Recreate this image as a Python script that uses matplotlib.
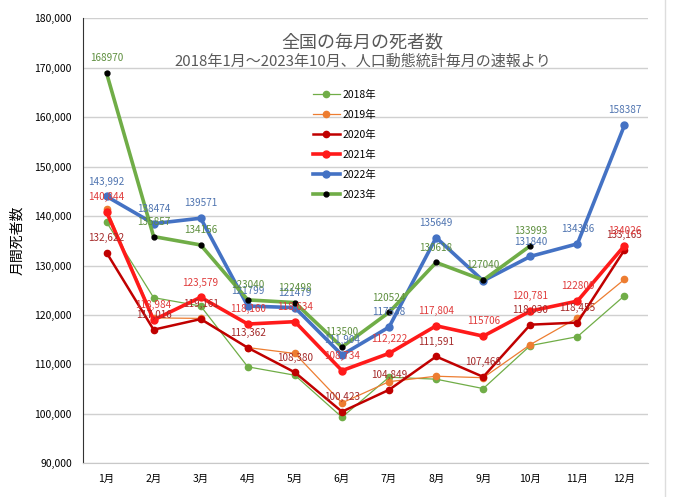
import matplotlib
matplotlib.use('Agg')
import matplotlib.pyplot as plt
from matplotlib.lines import Line2D

plt.rcParams['font.family'] = ['Noto Sans CJK JP', 'DejaVu Sans']

months = ['1月', '2月', '3月', '4月', '5月', '6月', '7月', '8月', '9月', '10月', '11月', '12月']

# values
y2018 = [138800, 123500, 121800, 109500, 107800, 99300, 107400, 107000, 105100, 113800, 115600, 123900]
y2019 = [141500, 119400, 119300, 113400, 112200, 102200, 106500, 107600, 107300, 114000, 119400, 127200]
y2020 = [132622, 117016, 119161, 113362, 108380, 100423, 104849, 111591, 107468, 118030, 118455, 133165]
y2021 = [140844, 118984, 123579, 118160, 118634, 108734, 112222, 117804, 115706, 120781, 122800, 134026]
y2022 = [143992, 138474, 139571, 121799, 121479, 111904, 117538, 135649, 126900, 131840, 134386, 158387]
y2023 = [168970, 135857, 134156, 123040, 122498, 113500, 120524, 130618, 127040, 133993]

# data labels as printed on the chart
lab2020 = ['132,622', '117,016', '119,161', '113,362', '108,380', '100,423', '104,849',
           '111,591', '107,468', '118,030', '118,455', '133,165']
lab2021 = ['140,844', '118,984', '123,579', '118,160', '118,634', '108,734', '112,222',
           '117,804', '115706', '120,781', '122800', '134026']
lab2022 = ['143,992', '138474', '139571', '121799', '121479', '111,904', '117538',
           '135649', '', '131840', '134386', '158387']
lab2023 = ['168970', '135857', '134156', '123040', '122498', '113500', '120524',
           '130618', '127040', '133993']

fig = plt.figure(figsize=(6.8, 4.97), dpi=100)
ax = fig.add_axes([0.122, 0.068, 0.831, 0.895])

x = range(12)
ax.plot(x, y2018, color='#70AD47', lw=0.9, marker='o', ms=4.5, label='2018年', zorder=3)
ax.plot(x, y2019, color='#ED7D31', lw=0.9, marker='o', ms=4.5, label='2019年', zorder=3)
ax.plot(x, y2020, color='#C00000', lw=1.8, marker='o', ms=4.5, label='2020年', zorder=4)
ax.plot(x, y2021, color='#FF1A1A', lw=2.6, marker='o', ms=5, label='2021年', zorder=5)
ax.plot(x, y2022, color='#4472C4', lw=2.6, marker='o', ms=5, label='2022年', zorder=6)
ax.plot(range(len(y2023)), y2023, color='#70AD47', lw=2.6, marker='o', ms=3.5,
        mfc='black', mec='black', label='2023年', zorder=7)

def put_labels(vals, labs, color):
    for i, (v, t) in enumerate(zip(vals, labs)):
        if t:
            ax.annotate(t, (i, v), xytext=(0, 7), textcoords='offset points',
                        ha='center', va='bottom', fontsize=7.2, color=color, zorder=8)

put_labels(y2020, lab2020, '#A52A2A')
put_labels(y2021, lab2021, '#E03C3C')
put_labels(y2022, lab2022, '#4F74B0')
put_labels(y2023, lab2023, '#5E8F3E')

ax.set_xlim(-0.5, 11.5)
ax.set_ylim(90000, 180000)
ax.set_xticks(list(x))
ax.set_xticklabels(months, fontsize=7.5)
ax.set_yticks(range(90000, 180001, 10000))
ax.set_yticklabels([f'{v:,}' for v in range(90000, 180001, 10000)], fontsize=7.5)
ax.tick_params(length=0, pad=8)
ax.grid(axis='y', color='#D0D0D0', lw=1)
ax.set_axisbelow(True)
for s in ['top', 'right']:
    ax.spines[s].set_visible(False)
ax.spines['left'].set_color('#333333')
ax.spines['bottom'].set_color('#C8C8C8')

ax.set_ylabel('月間死者数', fontsize=10, labelpad=7)

ax.text(0.495, 0.947, '全国の毎月の死者数', transform=ax.transAxes, ha='center',
        va='center', fontsize=13, color='#595959')
ax.text(0.495, 0.903, '2018年1月～2023年10月、人口動態統計毎月の速報より',
        transform=ax.transAxes, ha='center', va='center', fontsize=10.8, color='#595959')

ax.legend(loc='upper left', bbox_to_anchor=(0.39, 0.86), frameon=False, fontsize=7.5,
          labelspacing=0.95, handlelength=2.6, handletextpad=0.3)

fig.add_artist(Line2D([665 / 680, 665 / 680], [0, 1], color='#DDDDDD', lw=1))

fig.savefig('out.png', dpi=100)
